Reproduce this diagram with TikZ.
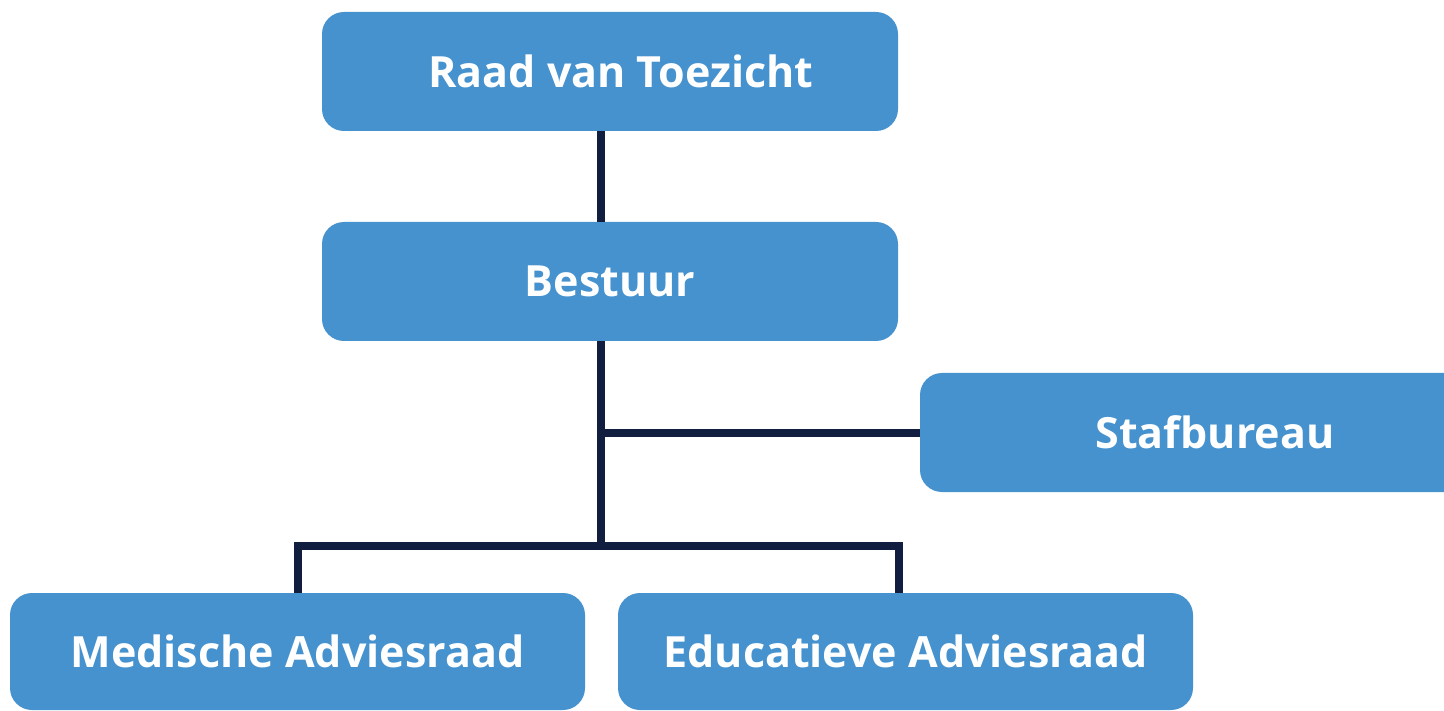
\documentclass[tikz,border=0pt]{standalone}
\usepackage{fontspec}
\setmainfont{Open Sans}
\definecolor{boxblue}{HTML}{4592CF}
\definecolor{navy}{HTML}{121E3F}
\tikzset{
  orgbox/.style={draw=none, fill=boxblue, rounded corners=22pt, minimum height=119pt,
    inner sep=0pt, text=white, font=\fontsize{43}{50}\selectfont\bfseries},
  link/.style={draw=navy, line width=8pt}
}
\begin{document}
\begin{tikzpicture}[x=1pt,y=-1pt]
\useasboundingbox[fill=white] (0,0) rectangle (1444,711);
\node[orgbox, minimum width=576pt] (raad) at (610,71.5) {\hspace{22pt}Raad van Toezicht};
\node[orgbox, minimum width=576pt] (bestuur) at (610,281.5) {Bestuur};
\node[orgbox, minimum width=590pt] (staf) at (1215,432.5) {Stafbureau};
\node[orgbox, minimum width=575pt, minimum height=117pt] (med) at (297.5,651.5) {Medische Adviesraad};
\node[orgbox, minimum width=575pt, minimum height=117pt] (edu) at (905.5,651.5) {Educatieve Adviesraad};
\coordinate (j1) at (601,432.5);
\coordinate (j2) at (601,545.5);
\coordinate (d2) at (898.5,545.5);
\draw[link] (raad.south -| j1) -- (bestuur.north -| j1);
\draw[link] (bestuur.south -| j1) -- (j2);
\draw[link] (j1) -- (staf.west);
\draw[link] (med.north) |- (d2) -- (d2 |- edu.north);
\end{tikzpicture}
\end{document}
